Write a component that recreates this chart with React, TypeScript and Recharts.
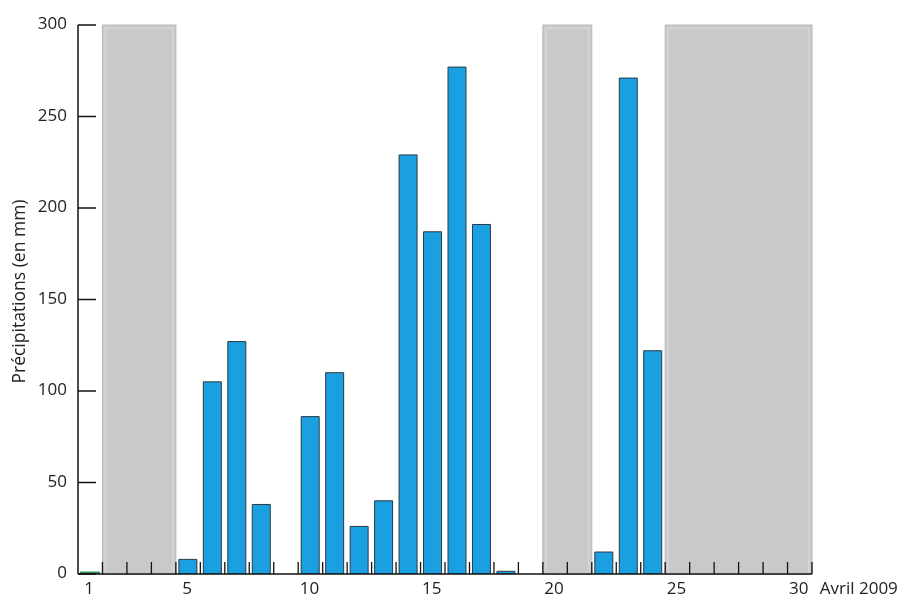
import React from "react";
import { BarChart, Bar, XAxis, YAxis, ReferenceArea, Cell } from "recharts";

// Days of April 2009
const days = [1, 2, 3, 4, 5, 6, 7, 8, 9, 10, 11, 12, 13, 14, 15, 16, 17, 18, 19, 20, 21, 22, 23, 24, 25, 26, 27, 28, 29, 30];
// Precipitation (mm); null = no data (grey periods)
const rain = [0.8, null, null, null, 8, 105, 127, 38, 0, 86, 110, 26, 40, 229, 187, 277, 191, 1.5, 0, null, null, 12, 271, 122, null, null, null, null, null, null];
// Missing data periods [from, to]
const greyPeriods = [
  [2, 4],
  [20, 21],
  [25, 30],
];
const labelDays = [1, 5, 10, 15, 20, 25, 30];
const yTicks = [0, 50, 100, 150, 200, 250, 300];
const monthLabel = "Avril 2009";
const yLabel = "Précipitations (en mm)";

const data = days.map((d, i) => ({ day: d, rain: rain[i] }));

const W = 903;
const H = 599;
const MARGIN = { top: 25, right: 91, bottom: 0, left: 0 };
const Y_AXIS_W = 78;
const X_AXIS_H = 25;
const PLOT_W = W - MARGIN.left - MARGIN.right - Y_AXIS_W;
const HALF_BAND = PLOT_W / days.length / 2;
const FONT = "'Open Sans', sans-serif";
const TEXT = "#222";

const XTick = (props: any) => {
  const { x, y, payload } = props;
  const v = payload.value;
  return (
    <g>
      <line x1={x + HALF_BAND} x2={x + HALF_BAND} y1={y} y2={y - 12} stroke="#111" strokeWidth={1.3} />
      {labelDays.includes(v) && (
        <text x={x - 1} y={y + 20} textAnchor="middle" fontFamily={FONT} fontSize={17} fill={TEXT}>
          {v}
        </text>
      )}
      {v === 30 && (
        <text x={x + 20} y={y + 20} textAnchor="start" fontFamily={FONT} fontSize={17} fill={TEXT}>
          {monthLabel}
        </text>
      )}
    </g>
  );
};

const YTick = (props: any) => {
  const { x, y, payload } = props;
  return (
    <g>
      <line x1={x} x2={x + 18} y1={y} y2={y} stroke="#111" strokeWidth={1.5} />
      <text x={x - 11} y={y + 4} textAnchor="end" fontFamily={FONT} fontSize={17} fill={TEXT}>
        {payload.value}
      </text>
    </g>
  );
};

const GreyShape = (props: any) => {
  const { x, y, width, height } = props;
  return (
    <g>
      <rect x={x} y={y} width={width} height={height} fill="#c9c9c9" stroke="#b9b9b9" strokeWidth={1} />
      <rect x={x + 3} y={y + 3} width={width - 6} height={height - 3} fill="none" stroke="#d3d3d3" strokeWidth={2} />
    </g>
  );
};

const YLabel = (props: any) => {
  const vb = props.viewBox || {};
  const cx = 18;
  const cy = (vb.y ?? 0) + (vb.height ?? 0) / 2 - 8;
  return (
    <text
      x={cx}
      y={cy}
      transform={`rotate(-90, ${cx}, ${cy})`}
      textAnchor="middle"
      dominantBaseline="central"
      fontFamily={FONT}
      fontSize={17.5}
      fill={TEXT}
    >
      {yLabel}
    </text>
  );
};

export default function App() {
  return (
    <div style={{ position: "fixed", left: 0, top: 0 }}>
      <BarChart width={W} height={H} data={data} margin={MARGIN} barSize={18}>
        {greyPeriods.map(([a, b], i) => (
          <ReferenceArea key={i} x1={a} x2={b} y1={0} y2={300} shape={GreyShape} ifOverflow="visible" />
        ))}
        <Bar dataKey="rain" isAnimationActive={false} fill="#1a9fe0" stroke="#2b3a44" strokeWidth={1}>
          {data.map((d, i) => (
            <Cell
              key={i}
              fill={d.day === 1 ? "#2f8f5f" : "#1a9fe0"}
              stroke={d.day === 1 ? "#2f8f5f" : "#2b3a44"}
              strokeWidth={d.day === 1 ? 2 : 1}
            />
          ))}
        </Bar>
        <XAxis
          dataKey="day"
          type="category"
          interval={0}
          height={X_AXIS_H}
          tickSize={0}
          tickMargin={0}
          tickLine={false}
          axisLine={{ stroke: "#111", strokeWidth: 1.5 }}
          tick={<XTick />}
          padding={{ left: 0, right: 0 }}
        />
        <YAxis
          type="number"
          domain={[0, 300]}
          ticks={yTicks}
          width={Y_AXIS_W}
          tickSize={0}
          tickMargin={0}
          tickLine={false}
          axisLine={{ stroke: "#111", strokeWidth: 1.5 }}
          tick={<YTick />}
          label={{ content: <YLabel /> }}
          allowDataOverflow
        />
      </BarChart>
    </div>
  );
}
